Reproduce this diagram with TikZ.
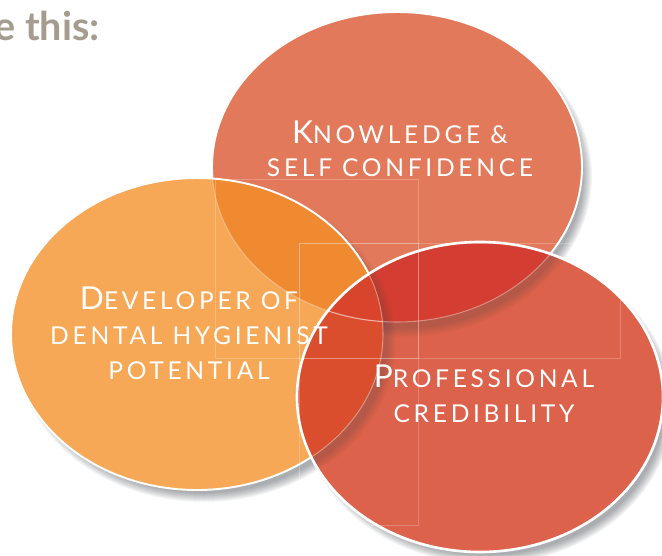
\documentclass[tikz,border=0pt]{standalone}
\usepackage{fontspec}
\setmainfont{Lato}
\usetikzlibrary{calc}

\definecolor{ctop}{HTML}{E3795B}
\definecolor{cleft}{HTML}{F7A857}
\definecolor{cbot}{HTML}{DC624B}
\definecolor{ctl}{HTML}{F08A30}
\definecolor{ctb}{HTML}{D43D31}
\definecolor{clb}{HTML}{DA4D2D}
\definecolor{ctri}{HTML}{D8442C}
\definecolor{ctitle}{HTML}{A59C90}
\definecolor{cshade}{HTML}{3A4048}

\def\elltop{(397,167) ellipse (185 and 155)}
\def\ellleft{(197,334) ellipse (186 and 156)}
\def\ellbot{(480,397) ellipse (183 and 155)}
\def\shadowell(#1,#2)(#3,#4)#5{\foreach \k in {0,...,9} \fill[cshade, opacity=#5] (#1,#2) ellipse ({#3-6+\k} and {#4-6+\k});}
\newcommand\smc[2]{{\fontsize{18}{20}\selectfont #1}{\fontsize{14}{20}\selectfont #2}}

\tikzset{
  rim/.style={white, line width=1.1pt},
  faint rim/.style={white, opacity=.35, line width=.6pt},
  textbox/.style={white, opacity=.22, line width=.4pt},
  label text/.style={text=white, align=center, inner sep=0pt,
    font=\fontsize{14}{20}\selectfont\addfontfeature{LetterSpace=15}}
}

\begin{document}
\begin{tikzpicture}[x=0.02cm, y=-0.02cm]
%%%%% START %%%%%

\fill[white] (0,0) rectangle (662,555);
\useasboundingbox (0,0) rectangle (662,555);

\coordinate (ctop) at (397,167);
\coordinate (cleft) at (197,334);
\coordinate (cbot) at (480,397);

% drop shadows
\begin{scope}[shift={(7,9)}]
  \shadowell(480,397)(183,155){0.05}
  \shadowell(397,167)(185,155){0.05}
  \shadowell(197,334)(186,156){0.05}
\end{scope}

% flat fills
\fill[cbot] \ellbot;
\fill[ctop] \elltop;
\fill[cleft] \ellleft;

% top casts onto bottom
\begin{scope}
  \clip \ellbot;
  \begin{scope}[shift={(5,12)}]
    \shadowell(397,167)(185,155){0.025}
  \end{scope}
\end{scope}
\begin{scope}
  \clip \elltop;
  \fill[ctb] \ellbot;
\end{scope}

% left casts onto top and bottom
\begin{scope}
  \clip \elltop \ellbot;
  \begin{scope}[shift={(10,8)}]
    \shadowell(197,334)(186,156){0.025}
  \end{scope}
\end{scope}
\begin{scope}
  \clip \ellleft;
  \fill[ctl] \elltop;
  \fill[clb] \ellbot;
\end{scope}
\begin{scope}
  \clip \ellleft;
  \clip \elltop;
  \fill[ctri] \ellbot;
\end{scope}

% text boxes
\draw[textbox] (215,179) rectangle (418,358);
\draw[textbox] (299,243) rectangle (620,358);
\draw[textbox] (299,243) rectangle (418,525);

% rims
\begin{scope}[even odd rule]
  \clip (-10,-10) rectangle (672,565) \ellbot;
  \draw[rim] \ellleft;
  \clip (-10,-10) rectangle (672,565) \ellleft;
  \draw[rim] \elltop;
\end{scope}
\begin{scope}
  \clip \ellbot;
  \draw[faint rim] \elltop;
  \draw[faint rim] \ellleft;
\end{scope}
\begin{scope}
  \clip \ellleft;
  \draw[faint rim] \elltop;
\end{scope}
\draw[white, line width=1.5pt] \ellbot;

% labels
\node[label text] (know) at (400,149)
  {\smc{K}{NOWLEDGE \&}\\[-1pt]\smc{}{SELF CONFIDENCE}};
\node[label text] (dev) at (189,333)
  {\smc{D}{EVELOPER OF}\\\smc{}{DENTAL HYGIENIST}\\\smc{}{POTENTIAL}};
\node[label text] (prof) at (484,394)
  {\smc{P}{ROFESSIONAL}\\\smc{}{CREDIBILITY}};

\node[anchor=base west, inner sep=0pt, text=ctitle,
  font=\fontsize{22.5}{26}\selectfont\bfseries] (title) at (-6,40) {e this:};

%%%%% END %%%%%
\end{tikzpicture}
\end{document}
